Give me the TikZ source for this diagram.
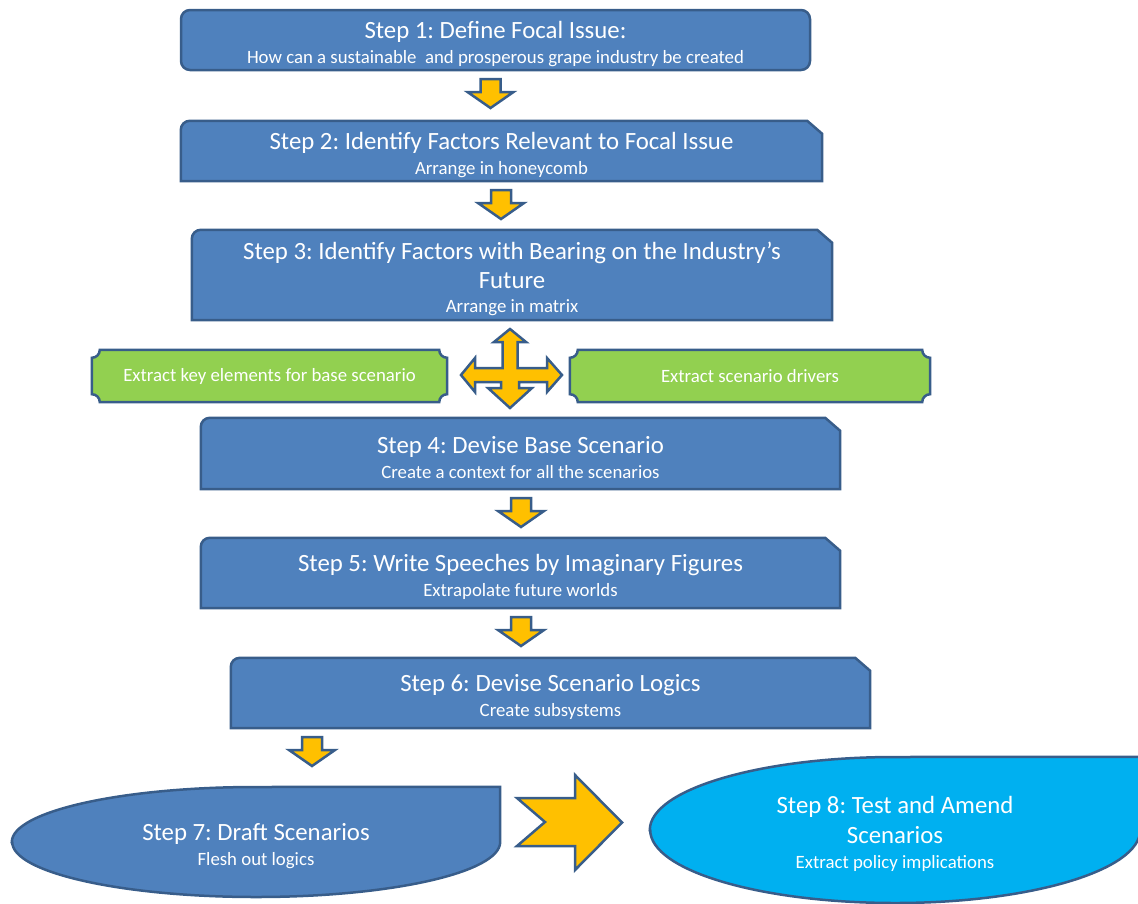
\documentclass[tikz,border=0pt]{standalone}
\usepackage{fontspec}
\setmainfont{Carlito}
\usetikzlibrary{backgrounds}
\definecolor{stepblue}{HTML}{4F81BD}
\definecolor{edgeblue}{HTML}{385D8A}
\definecolor{leafgreen}{HTML}{92D050}
\definecolor{arrowgold}{HTML}{FFC000}
\definecolor{testcyan}{HTML}{00B0F0}
\newcommand\headfont{\fontsize{24.8}{24.5}\selectfont}
\newcommand\subfont{\fontsize{18.8}{24.5}\selectfont}
\newcommand\stephead[1]{{\headfont\rule{0pt}{25pt}#1}}
\frenchspacing
\begin{document}
\begin{tikzpicture}[x=1pt, y=1pt,
  stepbox/.style={align=center, text=white, font=\subfont, inner sep=0pt},
  outline/.style={draw=edgeblue, line width=2.5pt},
  roundbox/.style={stepbox, outline, fill=stepblue, rounded corners=9pt},
  goldarrow/.style={outline, fill=arrowgold}]
  \useasboundingbox (0,0) rectangle (1138,-903);

  \node (s1) [roundbox, minimum width=629pt, minimum height=60pt] at (495.5,-40) {\stephead{Step 1: Define Focal Issue:}\\How can a sustainable\ \ and prosperous grape industry be created};
  \node (s2) [stepbox, minimum width=641pt, minimum height=60pt] at (501.5,-151) {\stephead{Step 2: Identify Factors Relevant to Focal Issue}\\Arrange in honeycomb};
  \node (s3) [stepbox, minimum width=640pt, minimum height=90pt] at (512,-275) {\stephead{Step 3: Identify Factors with Bearing on the Industry’s}\\[4.5pt]{\headfont Future}\\Arrange in matrix};
  \node (g1) [stepbox, minimum width=355pt, minimum height=52pt] at (269.5,-376) {Extract key elements for base scenario};
  \node (g2) [stepbox, minimum width=360pt, minimum height=52pt] at (750,-376) {Extract scenario drivers};
  \node (s4) [stepbox, minimum width=639pt, minimum height=71pt] at (520.5,-453.5) {\stephead{Step 4: Devise Base Scenario}\\Create a context for all the scenarios};
  \node (s5) [stepbox, minimum width=639pt, minimum height=70pt] at (520.5,-573) {\stephead{Step 5: Write Speeches by Imaginary Figures}\\Extrapolate future worlds};
  \node (s6) [stepbox, minimum width=639pt, minimum height=70pt] at (550.5,-693) {\stephead{Step 6: Devise Scenario Logics}\\Create subsystems};
  \node (s7) [stepbox, minimum width=488pt, minimum height=110pt] at (256,-842) {\stephead{Step 7: Draft Scenarios}\\Flesh out logics};
  \node (s8) [stepbox, minimum width=490pt, minimum height=146pt] at (895,-830) {\stephead{Step 8: Test and Amend}\\[5.5pt]{\headfont Scenarios}\\Extract policy implications};

  \begin{scope}[on background layer]
    \foreach \n in {s2,s3,s4,s5,s6}
      \draw[outline, fill=stepblue] (\n.south west) [rounded corners=9pt] -- (\n.north west) [sharp corners] -- ([xshift=-15pt]\n.north east) -- ([yshift=-13pt]\n.north east) -- (\n.south east) -- cycle;
    \foreach \n in {g1,g2}
      \draw[outline, fill=leafgreen] ([xshift=8pt]\n.north west) -- ([xshift=-8pt]\n.north east) arc[start angle=180, end angle=270, radius=8pt] -- ([yshift=8pt]\n.south east) arc[start angle=90, end angle=180, radius=8pt] -- ([xshift=8pt]\n.south west) arc[start angle=0, end angle=90, radius=8pt] -- ([yshift=-8pt]\n.north west) arc[start angle=270, end angle=360, radius=8pt] -- cycle;
    \draw[outline, fill=stepblue] (s7.west) arc[start angle=180, end angle=90, x radius=244pt, y radius=55pt] -- (s7.north east) -- (s7.east) arc[start angle=0, end angle=-180, x radius=244pt, y radius=55pt] -- cycle;
    \draw[outline, fill=testcyan] (s8.west) arc[start angle=180, end angle=90, x radius=245pt, y radius=73pt] -- (s8.north east) -- (s8.east) arc[start angle=0, end angle=-180, x radius=245pt, y radius=73pt] -- cycle;
  \end{scope}

  \foreach \x/\y in {490.5/79, 501/190, 521/498, 521/617, 312/737}
    \draw[goldarrow] (\x-10,-\y) -- (\x+10,-\y) -- (\x+10,-\y-13) -- (\x+23,-\y-13) -- (\x,-\y-29) -- (\x-23,-\y-13) -- (\x-10,-\y-13) -- cycle;

  \draw[goldarrow] (510,-329) -- (526,-342) -- (517.5,-342) -- (517.5,-368) -- (547,-368) -- (547,-358) -- (562,-375) -- (547,-392) -- (547,-382) -- (519,-382) -- (519,-388) -- (532,-388) -- (510,-408) -- (488,-388) -- (501,-388) -- (501,-382) -- (475,-382) -- (475,-392) -- (461,-375) -- (475,-358) -- (475,-368) -- (502.5,-368) -- (502.5,-342) -- (494,-342) -- cycle;

  \draw[goldarrow] (517,-798) -- (575,-798) -- (575,-775) -- (622,-822.5) -- (575,-870) -- (575,-846) -- (517,-846) -- (545,-822) -- cycle;
\end{tikzpicture}
\end{document}
